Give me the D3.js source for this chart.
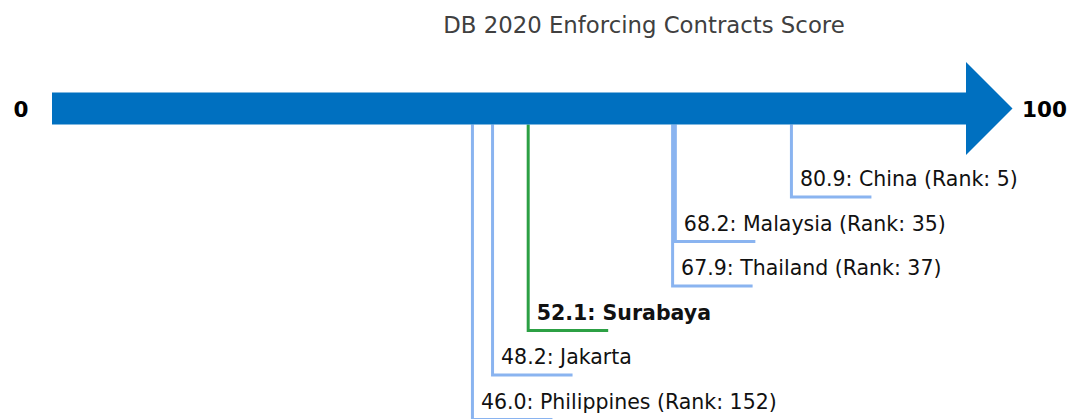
<!DOCTYPE html>
<html>
<head>
<meta charset="utf-8">
<script src="https://cdn.jsdelivr.net/npm/d3@7"></script>
<style>
  html, body { margin: 0; padding: 0; background: #fff; }
  svg { display: block; font-family: "DejaVu Sans", sans-serif; }
</style>
</head>
<body>
<svg id="chart" width="1072" height="419"></svg>
<script>
// Enforcing Contracts score (0–100) with the label text shown under the arrow
const names  = ["China", "Malaysia", "Thailand", "Surabaya", "Jakarta", "Philippines"];
const scores = [80.9, 68.2, 67.9, 52.1, 48.2, 46.0];
const ranks  = [5, 35, 37, null, null, 152];
const highlight = ["Surabaya"];
const axisEnds = [0, 100];
const title = "DB 2020 Enforcing Contracts Score";

const svg = d3.select("#chart");

const x = d3.scaleLinear().domain(axisEnds).range([52, 966]);
// label rows, top to bottom
const y = d3.scalePoint().domain(names).range([197, 419.5]);

const arrowTop = 92.5, arrowBot = 124.5, arrowMid = (arrowTop + arrowBot) / 2;
const headHalf = 46.5, headLen = 46.5;

// title
svg.append("text")
  .attr("x", 644).attr("y", 33)
  .attr("text-anchor", "middle")
  .attr("font-size", 22.8)
  .attr("fill", "#404040")
  .text(title);

// drop lines with underlines
const rows = names.map((n, i) => ({
  name: n, score: scores[i], rank: ranks[i], hi: highlight.includes(n)
}));

const g = svg.append("g");
rows.forEach(d => {
  const x0 = x(d.score), yl = y(d.name);
  const col = d.hi ? "#2ca044" : "#8ab4f0";
  g.append("path")
    .attr("d", `M${x0},${arrowBot} V${yl} H${x0 + 80}`)
    .attr("fill", "none")
    .attr("stroke", col)
    .attr("stroke-width", 3);
  g.append("text")
    .attr("x", x0 + 8.5)
    .attr("y", yl - 11)
    .attr("font-size", 20.5)
    .attr("font-weight", d.hi ? "bold" : "normal")
    .attr("fill", "#111")
    .text(d.score.toFixed(1) + ": " + d.name + (d.rank != null ? ` (Rank: ${d.rank})` : ""));
});

// arrow
const x100 = x(axisEnds[1]);
svg.append("path")
  .attr("d", `M${x(axisEnds[0])},${arrowTop} H${x100} V${arrowMid - headHalf} L${x100 + headLen},${arrowMid} L${x100},${arrowMid + headHalf} V${arrowBot} H${x(axisEnds[0])} Z`)
  .attr("fill", "#0070c0");

// end labels
svg.append("text")
  .attr("x", 21).attr("y", 116.5)
  .attr("text-anchor", "middle")
  .attr("font-size", 21.5).attr("font-weight", "bold")
  .attr("fill", "#000")
  .text(axisEnds[0]);
svg.append("text")
  .attr("x", 1022).attr("y", 116.5)
  .attr("font-size", 21.5).attr("font-weight", "bold")
  .attr("fill", "#000")
  .text(axisEnds[1]);
</script>
</body>
</html>
